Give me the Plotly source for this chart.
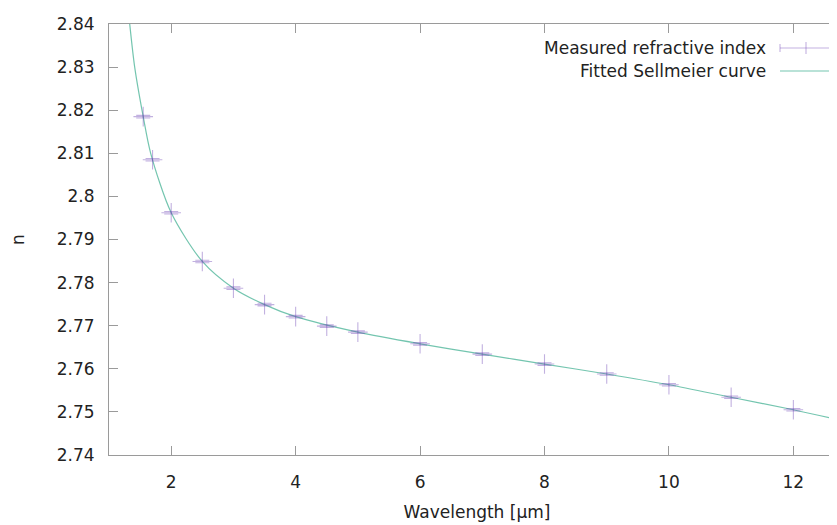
import plotly.graph_objects as go

# Measured refractive index
wavelength = [1.55, 1.70, 2.0, 2.5, 3.0, 3.5, 4.0, 4.5, 5.0, 6.0, 7.0, 8.0, 9.0, 10.0, 11.0, 12.0]
n_measured = [2.8185, 2.8085, 2.7962, 2.7849, 2.7787, 2.7749, 2.7721, 2.7699, 2.7685,
              2.7658, 2.7634, 2.7611, 2.7588, 2.7563, 2.7534, 2.7505]
n_error = [0.0003] * 16

# Fitted Sellmeier curve
fit_x = [1.28, 1.333, 1.413, 1.55, 1.67, 2.0, 2.5, 3.0, 3.5, 4.0, 5.0, 6.0, 7.0, 8.0, 9.0, 10.0, 11.0, 12.0, 12.83]
fit_n = [2.848, 2.840, 2.830, 2.8185, 2.810, 2.7962, 2.7849, 2.7787, 2.7749, 2.7721, 2.7685,
         2.7658, 2.7634, 2.7611, 2.7588, 2.7563, 2.7534, 2.7505, 2.7478]

x_ticks = [2, 4, 6, 8, 10, 12]
y_ticks = [2.74, 2.75, 2.76, 2.77, 2.78, 2.79, 2.80, 2.81, 2.82, 2.83, 2.84]
y_ticktext = ["2.74", "2.75", "2.76", "2.77", "2.78", "2.79", "2.8", "2.81", "2.82", "2.83", "2.84"]

names = ["Measured refractive index", "Fitted Sellmeier curve"]

PURPLE = "rgba(110,70,180,0.42)"
GREEN = "rgba(0,150,110,0.55)"
AXIS = "#9a9a9a"
FONT = "DejaVu Sans"

fig = go.Figure()
fig.add_trace(go.Scatter(
    x=fit_x, y=fit_n, mode="lines", name=names[1],
    line=dict(color=GREEN, width=1.2, shape="spline", smoothing=0.8),
    showlegend=False, hoverinfo="skip"))
fig.add_trace(go.Scatter(
    x=wavelength, y=n_measured, mode="markers", name=names[0],
    marker=dict(symbol="cross-thin-open", size=14, color=PURPLE,
                line=dict(color=PURPLE, width=1.1)),
    error_y=dict(type="data", array=n_error, visible=True, color=PURPLE,
                 thickness=1.1, width=7),
    showlegend=False))

# custom gnuplot-style legend (text right-aligned, sample on the right)
L, T, B = 101, 16, 447
W, H = 837 - L, B - T
def px(xp):
    return (xp - L) / W
def py(yp):
    return (B - yp) / H

rows = [40, 63]
for name, yrow in zip(names, rows):
    fig.add_annotation(x=px(760), y=py(yrow), xref="paper", yref="paper", text=name,
                       showarrow=False, xanchor="right", yanchor="middle",
                       font=dict(family=FONT, size=17, color="#222"))
# sample: error bar
fig.add_shape(type="line", xref="paper", yref="paper", x0=px(772), x1=px(825), y0=py(rows[0]), y1=py(rows[0]),
              line=dict(color=PURPLE, width=1.1))
for xs, hh in [(772, 4), (825, 4), (798, 6)]:
    fig.add_shape(type="line", xref="paper", yref="paper", x0=px(xs), x1=px(xs),
                  y0=py(rows[0] - hh), y1=py(rows[0] + hh), line=dict(color=PURPLE, width=1.1))
# sample: curve
fig.add_shape(type="line", xref="paper", yref="paper", x0=px(772), x1=px(825), y0=py(rows[1]), y1=py(rows[1]),
              line=dict(color=GREEN, width=1.2))

fig.update_layout(
    width=837, height=525,
    margin=dict(l=L, r=0, t=T, b=525 - B),
    plot_bgcolor="white", paper_bgcolor="white",
    font=dict(family=FONT, size=17, color="#222"),
    showlegend=False,
    xaxis=dict(range=[1, 12.83], tickvals=x_ticks, ticks="inside", ticklen=9, tickcolor=AXIS,
               showline=True, linecolor=AXIS, linewidth=1, mirror="ticks", showgrid=False,
               zeroline=False, ticklabelstandoff=12,
               title=dict(text="Wavelength [µm]", font=dict(size=17), standoff=14)),
    yaxis=dict(range=[2.74, 2.84], tickvals=y_ticks, ticktext=y_ticktext, ticks="inside", ticklen=9,
               tickcolor=AXIS, showline=True, linecolor=AXIS, linewidth=1, mirror=False,
               showgrid=False, zeroline=False, ticklabelstandoff=10,
               title=dict(text="n", font=dict(size=17), standoff=30)),
)

fig.write_html("out.html")
